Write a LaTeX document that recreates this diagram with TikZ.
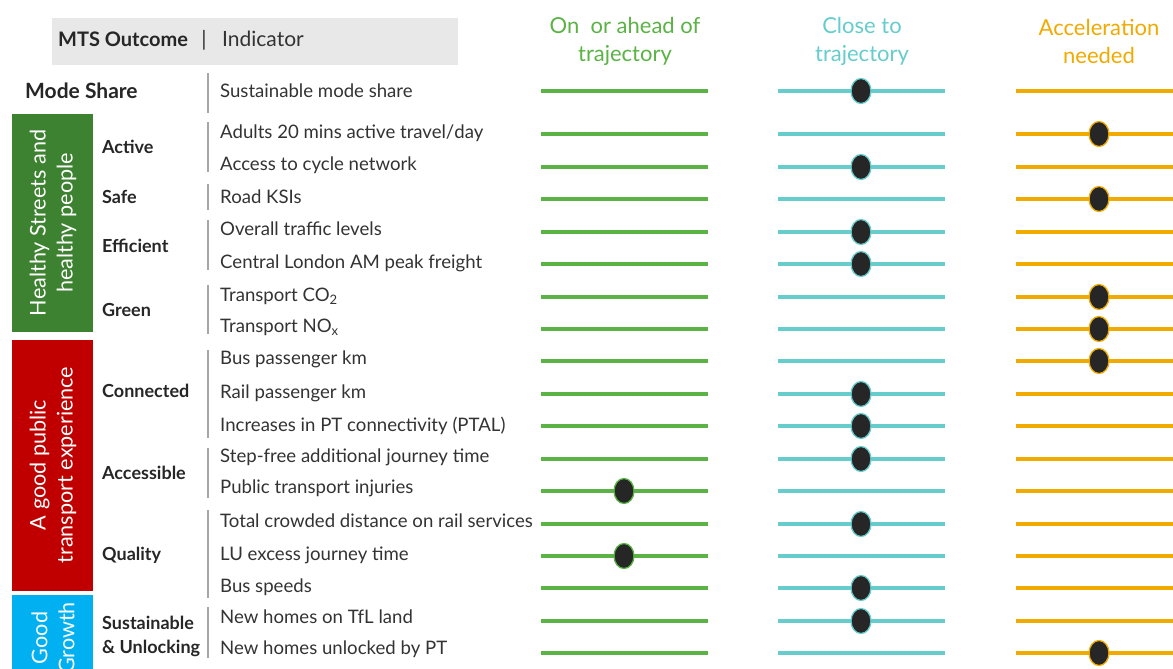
\documentclass[tikz,border=0pt]{standalone}
\usepackage{fontspec}
\setmainfont{Lato}
\usetikzlibrary{shapes.geometric}
\definecolor{txtgray}{HTML}{333333}
\definecolor{labgray}{HTML}{262626}
\definecolor{sepgray}{HTML}{A6A6A6}
\definecolor{hdrgray}{HTML}{E8E8E8}
\definecolor{boxgreen}{HTML}{3D8230}
\definecolor{boxred}{HTML}{C00000}
\definecolor{boxblue}{HTML}{00B0F0}
\definecolor{trkg}{HTML}{5BB345}
\definecolor{trkc}{HTML}{66CCCC}
\definecolor{trko}{HTML}{F0AA00}
\definecolor{dotfill}{HTML}{262626}
\begin{document}
\begin{tikzpicture}[x=1pt,y=-1pt,
  ind/.style={anchor=base west, inner sep=0pt, font=\fontsize{18.6}{22}\selectfont, text=txtgray},
  lab/.style={anchor=base west, inner sep=0pt, font=\fontsize{18}{21}\selectfont\bfseries, text=labgray},
  sepline/.style={draw=sepgray, line width=1.3pt},
  track/.style={line width=4pt},
  dotmark/.style={ellipse, fill=dotfill, line width=1.3pt, minimum width=20pt, minimum height=25pt, inner sep=0pt},
  catbox/.style={anchor=north west, minimum width=81pt, inner sep=0pt},
  cattext/.style={rotate=90, align=center, text=white, font=\fontsize{21.6}{27}\selectfont},
  colhead/.style={align=center, inner sep=0pt, font=\fontsize{22}{28}\selectfont}]
\useasboundingbox (0,0) rectangle (1173,669);
\clip (0,0) rectangle (1173,669);
\fill[white] (0,0) rectangle (1173,669);

% header
\node[fill=hdrgray, anchor=north west, minimum width=406pt, minimum height=47pt, inner sep=0pt] (hdr) at (52,18) {};
\node[anchor=base west, inner sep=0pt, font=\fontsize{20}{22}\selectfont\bfseries, text=labgray] (hdrmts) at (58,47) {MTS Outcome};
\node[anchor=base, inner sep=0pt, font=\fontsize{21}{22}\selectfont, text=txtgray] (hdrbar) at (204,47) {|};
\node[anchor=base west, inner sep=0pt, font=\fontsize{21}{22}\selectfont, text=txtgray] (hdrind) at (222,47) {Indicator};

% column headings
\node[colhead, text=trkg] (hg) at (625,41) {On\ \ or ahead of\\trajectory};
\node[colhead, text=trkc] (hc) at (862,41) {Close to\\trajectory};
\node[colhead, text=trko] (ho) at (1099,41) {Acceleration\\needed};

% Mode share
\node[anchor=base west, inner sep=0pt, font=\fontsize{21}{24}\selectfont\bfseries, text=labgray] (modeshare) at (25,99) {Mode Share};

% category boxes
\node[catbox, fill=boxgreen, minimum height=218pt] (bgreen) at (12,114) {};
\node[catbox, fill=boxred, minimum height=251pt] (bred) at (12,340) {};
\node[catbox, fill=boxblue, minimum height=90pt] (bblue) at (12,595) {};
\node[cattext] (tgreen) at (53,223) {Healthy Streets and\\healthy people};
\node[cattext] (tred) at (53,465) {A good public\\transport experience};
\node[cattext] (tblue) at (53,638) {Good\\Growth};

% outcome labels
\node[lab] (lactive) at (102,153) {Active};
\node[lab] (lsafe) at (102,203) {Safe};
\node[lab] (leff) at (102,252) {Efficient};
\node[lab] (lgreen) at (102,316) {Green};
\node[lab] (lconn) at (102,397) {Connected};
\node[lab] (lacc) at (102,479) {Accessible};
\node[lab] (lqual) at (102,560) {Quality};
\node[lab] (lsust) at (102,629) {Sustainable};
\node[lab] (lunl) at (102,653) {\& Unlocking};

% separators
\foreach \a/\b [count=\k] in {73/113,122/172,184/210,220/270,285/334,350/438,448/498,510/598,607/658}{
  \coordinate (sa\k) at (208,\a);
  \coordinate (sb\k) at (208,\b);
  \draw[sepline] (sa\k) -- (sb\k);
}

% indicator rows: track y / text centre y / text / dot x / dot colour
\foreach \y/\ty/\t/\dx/\dc [count=\i] in {
  91/91/Sustainable mode share/861/trkc,
  134/132/Adults 20 mins active travel\slash day/1099/trko,
  167/164/Access to cycle network/861/trkc,
  199/197/Road KSIs/1099/trko,
  232/229/Overall traffic levels/861/trkc,
  264/262/Central London AM peak freight/861/trkc,
  297/295/Transport CO\textsubscript{2}/1099/trko,
  329/326/Transport NO\textsubscript{x}/1099/trko,
  361/358/Bus passenger km/1099/trko,
  394/392/Rail passenger km/861/trkc,
  426/425/Increases in PT connectivity (PTAL)/861/trkc,
  459/456/Step-free additional journey time/861/trkc,
  491/487/Public transport injuries/624/trkg,
  524/521/Total crowded distance on rail services/861/trkc,
  556/554/LU excess journey time/624/trkg,
  588/586/Bus speeds/861/trkc,
  621/617/New homes on TfL land/861/trkc,
  653/648/New homes unlocked by PT/1099/trko}{
  \node[ind] (ind\i) at (220,\ty+6.5) {\t};
  \coordinate (gl\i) at (541,\y);
  \coordinate (gr\i) at (708,\y);
  \coordinate (cl\i) at (778,\y);
  \coordinate (cr\i) at (945,\y);
  \coordinate (ol\i) at (1016,\y);
  \coordinate (or\i) at (1185,\y);
  \draw[track, trkg] (gl\i) -- (gr\i);
  \draw[track, trkc] (cl\i) -- (cr\i);
  \draw[track, trko] (ol\i) -- (or\i);
  \node[dotmark, draw=\dc] (dot\i) at (\dx,\y) {};
}
\end{tikzpicture}
\end{document}
